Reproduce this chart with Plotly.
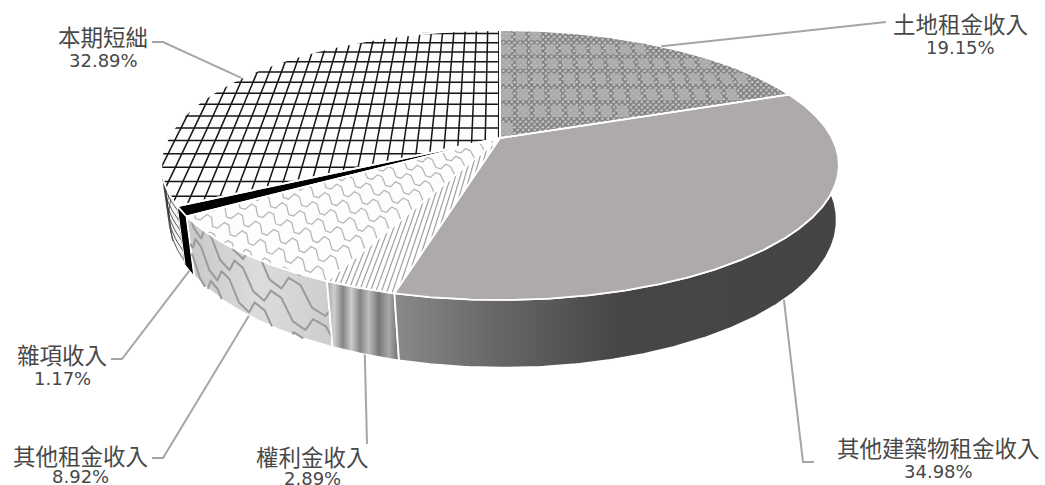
import numpy as np
import plotly.graph_objects as go

categories = ["土地租金收入", "其他建築物租金收入", "權利金收入", "其他租金收入", "雜項收入", "本期短絀"]
values = [19.15, 34.98, 2.89, 8.92, 1.17, 32.89]

W, H = 1045, 485
CX, CY, A, B, K = 500.0, 138.0, 332.0, 129.6, 0.2
TEXT = "#484848"
LEAD = "#a6a6a6"
CJK = "Noto Sans CJK TC, sans-serif"
NUM = "DejaVu Sans, sans-serif"

cum = np.concatenate([[0], np.cumsum(values)]) / sum(values) * 360.0


def top(x, y):
    x, y = np.asarray(x, float), np.asarray(y, float)
    d = 1 + K * y
    return CX + A * x / d, CY - B * y / d


def lower(sx, sy):
    return CX + (sx - CX) * 0.985 + 3, CY + (sy - CY) * 1.094 + 52.5


def rim(deg):
    t = np.radians(deg)
    return top(np.sin(t), np.cos(t))


def rim_low(deg):
    return lower(*rim(deg))


def arc(a0, a1):
    return np.linspace(a0, a1, max(int(abs(a1 - a0) * 2), 4))


fig = go.Figure()


def add(x, y, **kw):
    kw.setdefault("mode", "lines")
    kw.setdefault("line", dict(width=0))
    fig.add_trace(go.Scatter(x=list(x), y=list(y), showlegend=False, hoverinfo="skip", **kw))


def wall_poly(a0, a1):
    d = arc(a0, a1)
    tx, ty = rim(d)
    bx, by = rim_low(d)
    return np.r_[tx, bx[::-1], tx[0]], np.r_[ty, by[::-1], ty[0]]


def wall_point(deg, z):
    tx, ty = rim(deg)
    bx, by = rim_low(deg)
    return tx + (bx - tx) * z, ty + (by - ty) * z


def in_sector(x, y, a0, a1):
    ang = np.degrees(np.arctan2(x, y)) % 360
    return (x * x + y * y <= 1) & (ang >= a0) & (ang <= a1)


def chop(px, py, mask):
    ox, oy = [], []
    for i in range(len(px)):
        if mask[i]:
            ox.append(px[i])
            oy.append(py[i])
        elif ox and ox[-1] is not None:
            ox.append(None)
            oy.append(None)
    if ox and ox[-1] is not None:
        ox.append(None)
        oy.append(None)
    return ox, oy


def hatch_const_x(a0, a1, step, shear=0.0):
    xs, ys = [], []
    t = np.linspace(-1, 1, 900)
    for c in np.arange(-1.3, 1.3, step):
        ux, uy = c + shear * t, t
        sx, sy = top(ux, uy)
        ox, oy = chop(sx, sy, in_sector(ux, uy, a0, a1))
        xs += ox
        ys += oy
    return xs, ys


def hatch_const_y(a0, a1, step):
    xs, ys = [], []
    t = np.linspace(-1, 1, 900)
    for c in np.arange(-1, 1, step):
        ux, uy = t, np.full_like(t, c)
        sx, sy = top(ux, uy)
        ox, oy = chop(sx, sy, in_sector(ux, uy, a0, a1))
        xs += ox
        ys += oy
    return xs, ys


def patches(a0, a1, dx, dy, fill):
    """Small lighter squares of the lattice texture, laid out on the disc."""
    xs, ys = [], []
    for cx in np.arange(0.004, 1, dx):
        for cy in np.arange(0.02, 1, dy):
            qx = np.array([cx, cx + dx * fill, cx + dx * fill, cx, cx])
            qy = np.array([cy, cy, cy + dy * fill, cy + dy * fill, cy])
            if np.all(in_sector(qx, qy, a0, a1)):
                sx, sy = top(qx, qy)
                xs += list(sx) + [None]
                ys += list(sy) + [None]
    return xs, ys


def wave(u, period):
    p = (u / period) % 1.0
    return np.clip(np.sin(2 * np.pi * p) * 1.6, -1, 1)


def hatch_wavy_top(a0, a1):
    xs, ys = [], []
    t = np.linspace(-1, 0.2, 1500)
    for i, c in enumerate(np.arange(-2.0, 1.0, 0.082)):
        ux = t
        uy = c - 0.9 * t + 0.024 * wave(t + (i % 2) * 0.027, 0.055)
        sx, sy = top(ux, uy)
        ox, oy = chop(sx, sy, in_sector(ux, uy, a0, a1))
        xs += ox
        ys += oy
    return xs, ys


def hatch_wavy_wall(a0, a1):
    xs, ys = [], []
    d = np.linspace(a0, a1, 500)
    span = a1 - a0
    for i, c in enumerate(np.arange(-0.4, 2.4, 0.42)):
        z = c - (d - a0) / span * 0.95 + 0.13 * wave(d + (i % 2) * 3.8, 7.6)
        m = (z >= 0) & (z <= 1)
        sx, sy = wall_point(d, np.clip(z, 0, 1))
        ox, oy = chop(sx, sy, m)
        xs += ox
        ys += oy
    return xs, ys


def wall_grid(a0, a1):
    xs, ys = [], []
    for d in np.arange(a0, a1, 9.0):
        z = np.linspace(0, 1, 12)
        sx, sy = wall_point(np.full_like(z, d), z)
        xs += list(sx) + [None]
        ys += list(sy) + [None]
    for c in np.arange(0.08, 1, 0.17):
        d = np.linspace(a0, a1, 40)
        sx, sy = wall_point(d, np.full_like(d, c))
        xs += list(sx) + [None]
        ys += list(sy) + [None]
    return xs, ys


WHITE_EDGE = dict(color="white", width=1.8)

# ---- side walls
a = cum
wx, wy = wall_poly(a[5], a[5] + 45)
add(wx, wy, fill="toself", fillcolor="#f4f4f4")
gx, gy = wall_grid(a[5], a[5] + 45)
add(gx, gy, line=dict(color="#333333", width=0.8))

wx, wy = wall_poly(a[4], a[5])
add(wx, wy, fill="toself", fillcolor="#000000", line=dict(color="white", width=1))

wx, wy = wall_poly(a[3], a[4])
add(wx, wy, fill="toself",
    fillgradient=dict(type="horizontal", colorscale=[[0, "#c8c8c8"], [0.5, "#dcdcdc"], [1, "#cdcdcd"]]),
    line=WHITE_EDGE)
gx, gy = hatch_wavy_wall(a[3], a[4])
add(gx, gy, line=dict(color="#9a9a9a", width=2))

wx, wy = wall_poly(a[2], a[3])
add(wx, wy, fill="toself",
    fillgradient=dict(type="horizontal", colorscale=[
        [0, "#a8a8a8"], [0.10, "#cfcfcf"], [0.22, "#858585"], [0.34, "#cccccc"], [0.46, "#858585"],
        [0.58, "#bdbdbd"], [0.72, "#777777"], [0.86, "#a8a8a8"], [1, "#6e6e6e"]]),
    line=WHITE_EDGE)

wx, wy = wall_poly(a[1], a[2])
add(wx, wy, fill="toself",
    fillgradient=dict(type="horizontal", colorscale=[
        [0, "#8a8a8a"], [0.22, "#696767"], [0.5, "#474545"], [1, "#454343"]]),
    line=WHITE_EDGE)

# ---- top face


def sector(a0, a1):
    d = arc(a0, a1)
    rx, ry = rim(d)
    return np.r_[CX, rx, CX], np.r_[CY, ry, CY]


sx, sy = sector(a[0], a[1])
add(sx, sy, fill="toself", fillcolor="#6f6f6f",
    fillpattern=dict(shape="x", size=4, solidity=0.62, fgcolor="#303030", bgcolor="#c8c8c8"))
gx, gy = patches(a[0], a[1], 0.052, 0.145, 0.68)
add(gx, gy, fill="toself", fillcolor="rgba(178,178,178,0.82)")

sx, sy = sector(a[1], a[2])
add(sx, sy, fill="toself", fillcolor="#aeaaaa")

sx, sy = sector(a[2], a[3])
add(sx, sy, fill="toself", fillcolor="#ffffff")
gx, gy = hatch_const_x(a[2], a[3], 0.0135, shear=0.1)
add(gx, gy, line=dict(color="#a0a0a0", width=1.2))

sx, sy = sector(a[3], a[4])
add(sx, sy, fill="toself", fillcolor="#fdfdfd")
gx, gy = hatch_wavy_top(a[3], a[4])
add(gx, gy, line=dict(color="#b8b8b8", width=1.3))

sx, sy = sector(a[4], a[5])
add(sx, sy, fill="toself", fillcolor="#000000")

sx, sy = sector(a[5], a[6])
add(sx, sy, fill="toself", fillcolor="#fdfdfd")
gx, gy = hatch_const_x(a[5], a[6], 0.0405)
add(gx, gy, line=dict(color="#151515", width=1.5))
gx, gy = hatch_const_y(a[5], a[6], 0.098)
add(gx, gy, line=dict(color="#151515", width=1.5))

for i in range(6):
    sx, sy = sector(a[i], a[i + 1])
    add(sx, sy, line=WHITE_EDGE)

# ---- leader lines: the start follows each slice's middle, the rest is label layout
LEADER_BEND = [(886, 22), (803, 462), (367, 444), (163, 458), (122, 359), (163, 42)]
LEADER_END = [(886, 22), (814, 462), (367, 444), (152, 458), (111, 359), (152, 42)]
ON_LOWER_RIM = [False, True, True, True, True, False]
for i in range(6):
    mid = (a[i] + a[i + 1]) / 2
    px, py = rim_low(mid) if ON_LOWER_RIM[i] else rim(mid)
    add([float(px), LEADER_BEND[i][0], LEADER_END[i][0]], [float(py), LEADER_BEND[i][1], LEADER_END[i][1]],
        line=dict(color=LEAD, width=2))

LABEL_X = [960, 938, 312, 80, 62, 103]
NAME_Y = [23, 447, 456, 455, 354, 36]
PCT_Y = [47, 471, 478, 476, 378, 60]
for i in range(6):
    fig.add_annotation(x=LABEL_X[i], y=NAME_Y[i], text=categories[i], showarrow=False,
                       xanchor="center", yanchor="middle", font=dict(family=CJK, size=22.5, color=TEXT))
    fig.add_annotation(x=LABEL_X[i], y=PCT_Y[i], text=f"{values[i]:.2f}%", showarrow=False,
                       xanchor="center", yanchor="middle", font=dict(family=NUM, size=18, color=TEXT))

fig.update_layout(
    width=W, height=H, margin=dict(l=0, r=0, t=0, b=0),
    paper_bgcolor="white", plot_bgcolor="white",
    xaxis=dict(range=[0, W], visible=False, fixedrange=True),
    yaxis=dict(range=[H, 0], visible=False, fixedrange=True),
)
fig.write_html("out.html", config=dict(displayModeBar=False),
               post_script="document.body.style.margin='0';document.body.style.overflow='hidden';")
